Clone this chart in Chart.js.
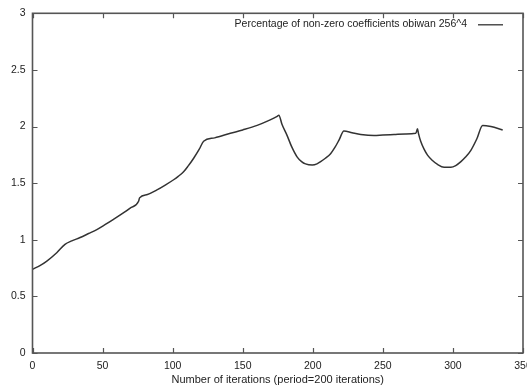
<!DOCTYPE html>
<html>
<head>
<meta charset="utf-8">
<script src="https://cdn.jsdelivr.net/npm/chart.js@4/dist/chart.umd.min.js"></script>
<style>
  html, body { margin: 0; padding: 0; background: #fff; overflow: hidden; }
  #wrap { width: 527px; height: 390px; position: relative; }
</style>
</head>
<body>
<div id="wrap"><canvas id="c"></canvas></div>
<script>
// Iteration numbers and the matching percentage of non-zero coefficients
const iterations = [0, 5, 10, 17.3, 23.2, 28, 34, 40, 45.9, 52, 57.8, 64, 69.7, 75.7, 76.4, 82, 88.8, 95, 100.7, 104, 107.8, 111, 115, 119, 122.1, 130, 141.2, 150, 160.3, 168, 174.6, 175.8, 178, 181.7, 185, 188.9, 192, 194.8, 199.6, 203, 205.6, 209, 212.7, 216, 218.7, 222.2, 228, 234.2, 243.7, 250, 258, 266, 273.5, 274.7, 275.4, 277, 279.4, 282, 285.4, 289, 293.7, 298.5, 302, 305.7, 309, 312.8, 317, 321.2, 327.1, 335.5];
const percentage = [0.74, 0.77, 0.81, 0.886, 0.96, 0.99, 1.02, 1.055, 1.09, 1.135, 1.18, 1.23, 1.28, 1.34, 1.37, 1.40, 1.44, 1.485, 1.53, 1.56, 1.60, 1.65, 1.72, 1.80, 1.87, 1.90, 1.94, 1.97, 2.01, 2.05, 2.09, 2.10, 2.02, 1.92, 1.82, 1.73, 1.69, 1.67, 1.66, 1.67, 1.69, 1.72, 1.76, 1.82, 1.88, 1.96, 1.945, 1.93, 1.92, 1.925, 1.93, 1.935, 1.94, 1.98, 1.94, 1.87, 1.80, 1.745, 1.70, 1.665, 1.64, 1.64, 1.655, 1.69, 1.73, 1.79, 1.89, 2.01, 2.00, 1.97];
const seriesLabel = 'Percentage of non-zero coefficients obiwan 256^4';
const xTitle = 'Number of iterations (period=200 iterations)';

const FONT = 'Liberation Sans, Arial, Helvetica, sans-serif';
const INK = '#333';
const FRAME = '#555';
const TEXT = '#222';

// gnuplot-style frame: border on all four sides with inward ticks mirrored
const framePlugin = {
  id: 'frame',
  afterDraw(chart) {
    const { ctx, chartArea: a, scales } = chart;
    const len = 5;
    ctx.save();
    ctx.strokeStyle = FRAME;
    ctx.lineWidth = 1.2;
    scales.x.ticks.forEach(t => {
      const px = Math.round(scales.x.getPixelForValue(t.value)) + 0.5;
      ctx.beginPath();
      ctx.moveTo(px, a.bottom); ctx.lineTo(px, a.bottom - len);
      ctx.moveTo(px, a.top); ctx.lineTo(px, a.top + len);
      ctx.stroke();
    });
    scales.y.ticks.forEach(t => {
      const py = Math.round(scales.y.getPixelForValue(t.value)) + 0.5;
      ctx.beginPath();
      ctx.moveTo(a.left, py); ctx.lineTo(a.left + len, py);
      ctx.moveTo(a.right, py); ctx.lineTo(a.right - len, py);
      ctx.stroke();
    });
    ctx.lineWidth = 1.6;
    ctx.strokeRect(a.left, a.top, a.right - a.left, a.bottom - a.top);
    ctx.restore();
  }
};

// key drawn inside the plot, top right
const keyPlugin = {
  id: 'key',
  afterDraw(chart) {
    const { ctx, chartArea: a } = chart;
    const ds = chart.data.datasets[0];
    const y = a.top + 11;
    const lineEnd = a.right - 20;
    const lineStart = lineEnd - 25;
    ctx.save();
    ctx.font = '10.5px ' + FONT;
    ctx.fillStyle = TEXT;
    ctx.textAlign = 'right';
    ctx.textBaseline = 'middle';
    ctx.fillText(ds.label, lineStart - 11, y);
    ctx.strokeStyle = ds.borderColor;
    ctx.lineWidth = 1.3;
    ctx.beginPath();
    ctx.moveTo(lineStart, y + 0.5);
    ctx.lineTo(lineEnd, y + 0.5);
    ctx.stroke();
    ctx.restore();
  }
};

new Chart(document.getElementById('c'), {
  type: 'line',
  data: {
    datasets: [{
      label: seriesLabel,
      data: iterations.map((x, i) => ({ x, y: percentage[i] })),
      borderColor: INK,
      borderWidth: 1.5,
      pointRadius: 0,
      cubicInterpolationMode: 'monotone',
      fill: false
    }]
  },
  options: {
    responsive: true,
    maintainAspectRatio: false,
    animation: false,
    layout: { padding: { top: 10, right: 4, left: 0, bottom: 0 } },
    plugins: { legend: { display: false }, tooltip: { enabled: false } },
    scales: {
      x: {
        type: 'linear',
        min: 0, max: 350,
        border: { display: false },
        grid: { display: false, drawTicks: false },
        ticks: { stepSize: 50, padding: 7, color: TEXT, font: { family: FONT, size: 10.5 }, maxRotation: 0 },
        title: { display: true, text: xTitle, color: TEXT, font: { family: FONT, size: 11 }, padding: { top: 0, bottom: 3 } },
        afterFit(s) { s.height = 37; s.paddingRight = 0; }
      },
      y: {
        min: 0, max: 3,
        border: { display: false },
        grid: { display: false, drawTicks: false },
        ticks: { stepSize: 0.5, padding: 7, color: TEXT, font: { family: FONT, size: 10.5 }, callback: v => String(v) },
        afterFit(s) { s.width = 32.5; }
      }
    }
  },
  plugins: [framePlugin, keyPlugin]
});
</script>
</body>
</html>
